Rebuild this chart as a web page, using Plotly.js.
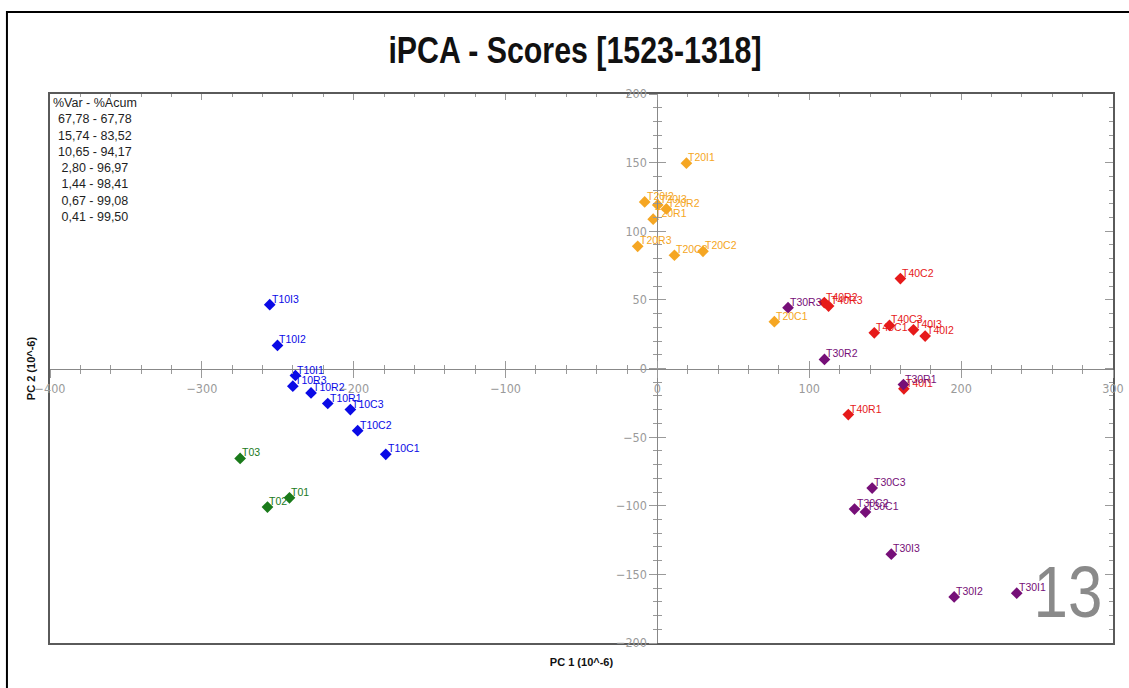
<!DOCTYPE html>
<html>
<head>
<meta charset="utf-8">
<script src="https://cdn.plot.ly/plotly-3.0.1.min.js"></script>
<style>
  html, body { margin: 0; padding: 0; background: #ffffff; }
  #chart { width: 1129px; height: 688px; }
</style>
</head>
<body>
<div id="chart"></div>
<script>
// Scores on the first two principal components (units of 10^-6)
const t0Names = ['T01', 'T02', 'T03'];
const t0PC1 = [-242.3, -256.8, -274.8];
const t0PC2 = [-94.2, -101.0, -65.5];

const t10Names = ['T10C1', 'T10C2', 'T10C3', 'T10I1', 'T10I2', 'T10I3', 'T10R1', 'T10R2', 'T10R3'];
const t10PC1 = [-178.9, -197.4, -202.2, -238.4, -250.2, -255.3, -217.1, -228.1, -240.1];
const t10PC2 = [-62.5, -45.3, -29.9, -5.1, 16.8, 46.5, -25.5, -17.8, -12.9];

const t20Names = ['T20C1', 'T20C2', 'T20C3', 'T20I1', 'T20I2', 'T20I3', 'T20R1', 'T20R2', 'T20R3'];
const t20PC1 = [77.0, 30.0, 11.2, 19.1, -8.4, 0.2, -2.8, 5.9, -13.0];
const t20PC2 = [34.1, 85.4, 82.5, 149.6, 121.4, 119.2, 108.8, 116.3, 89.0];

const t40Names = ['T40C1', 'T40C2', 'T40C3', 'T40I1', 'T40I2', 'T40I3', 'T40R1', 'T40R2', 'T40R3'];
const t40PC1 = [142.8, 160.0, 152.8, 162.3, 176.3, 168.6, 125.7, 109.9, 112.7];
const t40PC2 = [26.0, 65.5, 31.4, -14.8, 23.6, 28.2, -33.6, 48.0, 45.5];

const t30Names = ['T30C1', 'T30C2', 'T30C3', 'T30I1', 'T30I2', 'T30I3', 'T30R1', 'T30R2', 'T30R3'];
const t30PC1 = [137.0, 129.8, 141.4, 236.6, 195.4, 154.0, 162.0, 110.0, 86.0];
const t30PC2 = [-104.6, -102.4, -87.1, -163.7, -166.4, -135.3, -11.7, 6.6, 44.3];

// Explained variance per component and cumulative (%)
const varPct = [67.78, 15.74, 10.65, 2.80, 1.44, 0.67, 0.41];
const cumPct = [67.78, 83.52, 94.17, 96.97, 98.41, 99.08, 99.50];

const pc1Range = [-400, 300];
const pc2Range = [-200, 200];
const panelNumber = '13';

// ---- styling ----
const groups = [
  { names: t0Names,  x: t0PC1,  y: t0PC2,  color: '#1a7a1a' },
  { names: t10Names, x: t10PC1, y: t10PC2, color: '#0a0ae6' },
  { names: t20Names, x: t20PC1, y: t20PC2, color: '#f5a623' },
  { names: t40Names, x: t40PC1, y: t40PC2, color: '#e61a1a' },
  { names: t30Names, x: t30PC1, y: t30PC2, color: '#760f78' }
];

const NARROW = '"Liberation Sans Narrow", "Arial Narrow", "DejaVu Sans Condensed", "Liberation Sans", sans-serif';
const SANS = '"Liberation Sans", Arial, sans-serif';
const TICK_COL = '#9a9a9a';
const FRAME_COL = '#5a5a5a';

const traces = groups.map(g => ({
  type: 'scatter',
  mode: 'markers',
  x: g.x,
  y: g.y,
  text: g.names,
  marker: { symbol: 'diamond', size: 9, color: g.color, line: { width: 0 } },
  hoverinfo: 'text+x+y',
  cliponaxis: false
}));

// point labels sit just above-right of each marker
const annotations = [];
groups.forEach(g => {
  g.names.forEach((n, i) => {
    annotations.push({
      x: g.x[i], y: g.y[i], xref: 'x', yref: 'y',
      text: n, showarrow: false,
      xanchor: 'left', yanchor: 'middle',
      xshift: 0, yshift: 6,
      font: { family: SANS, size: 10.5, color: g.color }
    });
  });
});

// variance table in the upper-left corner
const fmt = v => v.toFixed(2).replace('.', ',');
const varLines = ['%Var - %Acum'].concat(varPct.map((v, i) => fmt(v) + ' - ' + fmt(cumPct[i])));
annotations.push({
  xref: 'paper', yref: 'paper', x: 0.0005, y: 1.0,
  xanchor: 'left', yanchor: 'top', align: 'center',
  text: varLines.join('<br>'), showarrow: false,
  font: { family: SANS, size: 12.5, color: '#1e1e1e' }
});

// panel number
const panelIndex = annotations.length;
annotations.push({
  xref: 'paper', yref: 'paper', x: 0.9577, y: 0.093,
  xanchor: 'center', yanchor: 'middle',
  text: panelNumber, showarrow: false,
  font: { family: SANS, size: 72, color: '#8a8a8a' }
});

const centreTicks = (dmaj, dmin, side) => ({
  ticks: side, ticklen: 8, tickwidth: 1, tickcolor: TICK_COL,
  dtick: dmaj, tick0: 0,
  minor: { dtick: dmin, tick0: 0, ticks: side, ticklen: 4, tickwidth: 1, tickcolor: TICK_COL, showgrid: false }
});

const layout = {
  width: 1129, height: 688,
  margin: { l: 50, r: 16, t: 94, b: 45, pad: 0 },
  paper_bgcolor: '#ffffff', plot_bgcolor: '#ffffff',
  showlegend: false,
  title: {
    text: '<b>iPCA - Scores [1523-1318]</b>',
    font: { family: SANS, size: 37, color: '#111111' },
    xref: 'paper', x: 0.4939, xanchor: 'center',
    yref: 'container', y: 0.927, yanchor: 'middle'
  },
  // axis through the origin (horizontal), with labels
  xaxis: Object.assign({
    range: pc1Range, anchor: 'free', position: 0.5,
    showline: true, linecolor: '#888888', linewidth: 1,
    showgrid: false, zeroline: false,
    showticklabels: true,
    tickfont: { family: NARROW, size: 12.5, color: TICK_COL }
  }, centreTicks(100, 20, 'outside')),
  // same line, upward half of the crossing ticks
  xaxis2: Object.assign({
    range: pc1Range, overlaying: 'x', anchor: 'free', position: 0.5,
    showline: false, showgrid: false, zeroline: false, showticklabels: false
  }, centreTicks(100, 20, 'inside')),
  // top frame edge with inward ticks
  xaxis3: {
    range: pc1Range, overlaying: 'x', side: 'top', anchor: 'y',
    showline: true, linecolor: FRAME_COL, linewidth: 1.5,
    showgrid: false, zeroline: false, showticklabels: false,
    ticks: 'inside', ticklen: 6, tickcolor: TICK_COL, dtick: 100, tick0: 0,
    minor: { dtick: 20, tick0: 0, ticks: 'inside', ticklen: 3, tickcolor: TICK_COL, showgrid: false }
  },
  // bottom frame edge carrying the axis title
  xaxis4: {
    range: pc1Range, overlaying: 'x', side: 'bottom', anchor: 'y',
    showline: true, linecolor: FRAME_COL, linewidth: 2,
    showgrid: false, zeroline: false, showticklabels: false, ticks: '',
    title: { text: '<b>PC 1 (10^-6)</b>', font: { family: SANS, size: 11, color: '#111111' }, standoff: 14 }
  },
  yaxis: Object.assign({
    range: pc2Range, anchor: 'free', position: 4 / 7,
    showline: true, linecolor: '#888888', linewidth: 1,
    showgrid: false, zeroline: false,
    showticklabels: true,
    tickfont: { family: NARROW, size: 12.5, color: TICK_COL }
  }, centreTicks(50, 10, 'outside')),
  yaxis2: Object.assign({
    range: pc2Range, overlaying: 'y', anchor: 'free', position: 4 / 7,
    showline: false, showgrid: false, zeroline: false, showticklabels: false
  }, centreTicks(50, 10, 'inside')),
  yaxis3: {
    range: pc2Range, overlaying: 'y', side: 'right', anchor: 'x',
    showline: true, linecolor: FRAME_COL, linewidth: 1.5,
    showgrid: false, zeroline: false, showticklabels: false,
    ticks: 'inside', ticklen: 8, tickcolor: TICK_COL, dtick: 50, tick0: 0,
    minor: { dtick: 10, tick0: 0, ticks: 'inside', ticklen: 4, tickcolor: TICK_COL, showgrid: false }
  },
  yaxis4: {
    range: pc2Range, overlaying: 'y', side: 'left', anchor: 'x',
    showline: true, linecolor: FRAME_COL, linewidth: 1.5,
    showgrid: false, zeroline: false, showticklabels: false, ticks: '',
    title: { text: '<b>PC 2 (10^-6)</b>', font: { family: SANS, size: 11, color: '#111111' }, standoff: 10 }
  },
  annotations: annotations,
  shapes: [
    // outer page border (left and top edges)
    { type: 'rect', xref: 'paper', yref: 'paper',
      x0: -0.0405, x1: 1.05, y0: -0.2, y1: 1.1494,
      line: { color: '#000000', width: 2 }, fillcolor: 'rgba(0,0,0,0)', layer: 'above' }
  ]
};

// empty traces so every overlaying axis gets drawn
const axisHolders = [['x2', 'y2'], ['x3', 'y3'], ['x4', 'y4']].map(p => ({
  type: 'scatter', mode: 'markers', x: [], y: [], xaxis: p[0], yaxis: p[1], hoverinfo: 'skip'
}));

// narrow a text element horizontally about its own centre
function squeeze(el, k) {
  if (!el) return;
  const b = el.getBBox();
  const cx = b.x + b.width / 2;
  const prev = el.getAttribute('transform') || '';
  el.setAttribute('transform', `${prev} translate(${cx},0) scale(${k},1) translate(${-cx},0)`);
}

Plotly.newPlot('chart', axisHolders.concat(traces), layout, { displayModeBar: false, responsive: false })
  .then(gd => {
    squeeze(gd.querySelector('.g-gtitle text.gtitle'), 0.82);
    squeeze(gd.querySelector(`.annotation[data-index="${panelIndex}"] text`), 0.86);
  });
</script>
</body>
</html>
